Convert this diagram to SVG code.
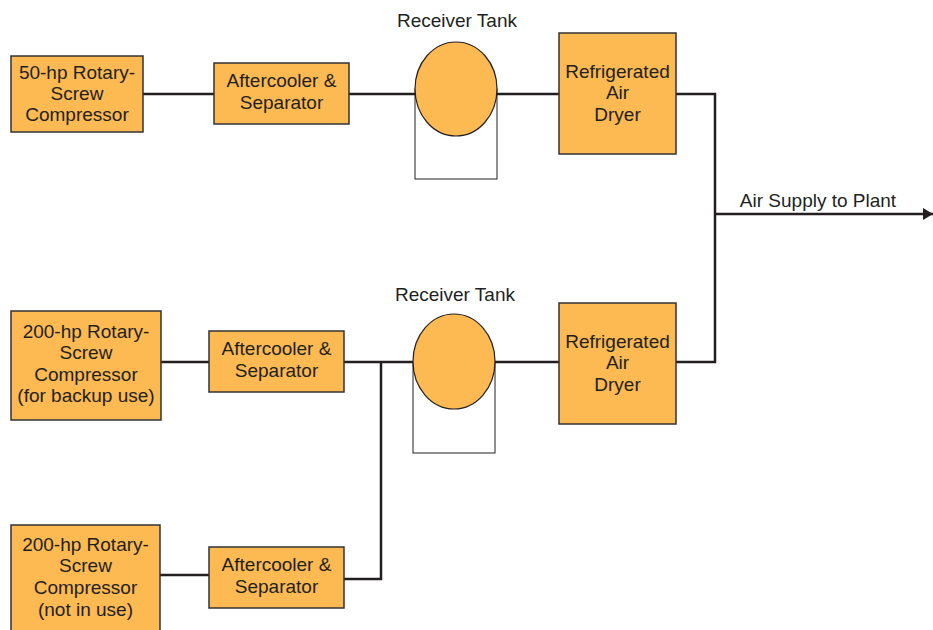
<svg xmlns="http://www.w3.org/2000/svg" width="933" height="630" viewBox="0 0 933 630">
<defs>
<style>
.box{fill:#FDB952;stroke:#333;stroke-width:1.5}
.tank{fill:#FDB952;stroke:#231F20;stroke-width:1.2}
.stand{fill:#fff;stroke:#231F20;stroke-width:1}
.t{font-family:"Liberation Sans",Arial,sans-serif;font-size:19px;fill:#231F20;text-anchor:middle}
.ln{fill:none;stroke:#231F20;stroke-width:2.5}
</style>
<marker id="arr" markerWidth="10" markerHeight="12" refX="10" refY="6" orient="auto" markerUnits="userSpaceOnUse">
<path d="M0,0 L10,6 L0,12 Z" fill="#231F20"/>
</marker>
</defs>
<rect width="933" height="630" fill="#fff"/>
<g id="connectors">
<path class="ln" d="M143,94 H214"/>
<path class="ln" d="M349,94 H415"/>
<path class="ln" d="M497,94 H559"/>
<path class="ln" d="M676,94 H715 V362 H676"/>
<path class="ln" d="M715,214 H933" marker-end="url(#arr)"/>
<path class="ln" d="M161,362 H209"/>
<path class="ln" d="M344,362 H413"/>
<path class="ln" d="M495,362 H559"/>
<path class="ln" d="M160,575 H209"/>
<path class="ln" d="M344,579 H381 V362"/>
</g>
<g id="comp50">
<rect class="box" x="11" y="56" width="132" height="76"/>
<text class="t" x="77" y="79">50-hp Rotary-</text>
<text class="t" x="77" y="100">Screw</text>
<text class="t" x="77" y="121">Compressor</text>
</g>
<g id="after1">
<rect class="box" x="214" y="63" width="135" height="61"/>
<text class="t" x="281.5" y="87">Aftercooler &amp;</text>
<text class="t" x="281.5" y="109">Separator</text>
</g>
<g id="tank1">
<rect class="stand" x="415" y="89" width="82" height="90"/>
<ellipse class="tank" cx="456" cy="89" rx="41" ry="47"/>
<text class="t" x="457" y="27">Receiver Tank</text>
</g>
<g id="dryer1">
<rect class="box" x="559" y="33" width="117" height="121"/>
<text class="t" x="617.5" y="78">Refrigerated</text>
<text class="t" x="617.5" y="99">Air</text>
<text class="t" x="617.5" y="121">Dryer</text>
</g>
<text class="t" x="818" y="207">Air Supply to Plant</text>
<g id="comp200a">
<rect class="box" x="11" y="311" width="150" height="109"/>
<text class="t" x="86" y="338">200-hp Rotary-</text>
<text class="t" x="86" y="359">Screw</text>
<text class="t" x="86" y="381">Compressor</text>
<text class="t" x="86" y="402">(for backup use)</text>
</g>
<g id="after2">
<rect class="box" x="209" y="331" width="135" height="61"/>
<text class="t" x="276.5" y="355">Aftercooler &amp;</text>
<text class="t" x="276.5" y="377">Separator</text>
</g>
<g id="tank2">
<rect class="stand" x="413" y="362" width="82" height="91"/>
<ellipse class="tank" cx="454" cy="361.5" rx="41" ry="47.5"/>
<text class="t" x="455" y="301">Receiver Tank</text>
</g>
<g id="dryer2">
<rect class="box" x="559" y="303" width="117" height="121"/>
<text class="t" x="617.5" y="348">Refrigerated</text>
<text class="t" x="617.5" y="369">Air</text>
<text class="t" x="617.5" y="391">Dryer</text>
</g>
<g id="comp200b">
<rect class="box" x="11" y="525" width="149" height="115"/>
<text class="t" x="85.5" y="551">200-hp Rotary-</text>
<text class="t" x="85.5" y="572">Screw</text>
<text class="t" x="85.5" y="594">Compressor</text>
<text class="t" x="85.5" y="616">(not in use)</text>
</g>
<g id="after3">
<rect class="box" x="209" y="547" width="135" height="61"/>
<text class="t" x="276.5" y="571">Aftercooler &amp;</text>
<text class="t" x="276.5" y="593">Separator</text>
</g>
</svg>
